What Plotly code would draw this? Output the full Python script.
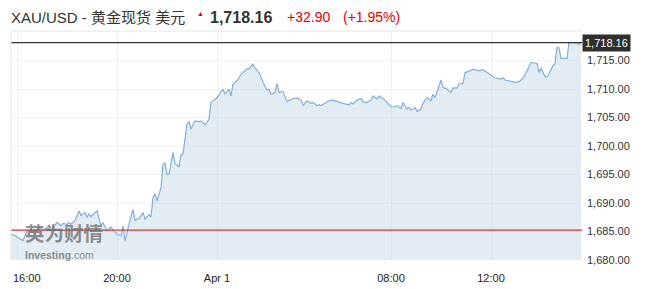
import plotly.graph_objects as go

# ---- data (5-minute bar index, price) ----
bar_idx = [0, 2, 6, 8, 10, 12, 14, 16, 18, 20, 21, 23, 25, 26, 28, 29, 30, 32, 34, 35,
           37, 38, 39, 40, 43, 44, 45, 46, 48, 50, 51, 53, 55, 56, 57, 59, 60, 61, 62, 64,
           65, 66, 67, 69, 70, 71, 72, 73, 75, 76, 77, 78, 79, 81, 82, 84, 85, 86, 88, 89,
           90, 92, 94, 95, 97, 99, 100, 103, 106, 107, 109, 110, 111, 113, 115, 118, 119, 121, 122, 124,
           126, 128, 129, 130, 132, 133, 134, 136, 138, 141, 143, 145, 146, 148, 150, 151, 153, 154, 155, 157,
           159, 161, 164, 166, 169, 170, 171, 173, 175, 176, 178, 180, 181, 183, 184, 187, 190, 192, 193, 195,
           196, 198, 199, 200, 202, 203, 205, 206, 208, 210, 211, 212, 215, 216, 218, 220, 221, 223, 224, 226,
           227, 229, 231, 234, 236, 239, 240, 242, 245, 246, 247, 250, 252, 254, 256, 258, 260, 263, 264, 265,
           267, 268, 269, 271, 272, 273, 274, 275, 278, 279, 281, 283, 284, 285]
price = [1684.56, 1684.26, 1683.40, 1685.10, 1685.40, 1684.56, 1685.80, 1685.26, 1685.70, 1685.10,
         1685.70, 1686.60, 1686.00, 1686.40, 1686.20, 1686.60, 1686.30, 1686.90, 1688.65, 1687.80,
         1688.35, 1687.50, 1688.10, 1687.60, 1688.65, 1687.50, 1686.00, 1686.60, 1685.10, 1685.80,
         1685.30, 1684.56, 1684.26, 1686.00, 1683.30, 1686.30, 1687.80, 1688.90, 1687.00, 1687.30,
         1687.80, 1688.35, 1687.20, 1687.95, 1687.60, 1691.00, 1691.60, 1690.40, 1692.70, 1696.80,
         1697.10, 1695.00, 1695.10, 1698.90, 1696.95, 1696.40, 1698.50, 1698.60, 1703.90, 1704.30,
         1703.00, 1704.40, 1704.30, 1704.40, 1703.70, 1704.70, 1707.65, 1708.50, 1710.00, 1709.10,
         1710.00, 1708.80, 1710.90, 1711.45, 1712.60, 1713.60, 1713.50, 1714.40, 1713.70, 1712.90,
         1711.20, 1709.80, 1710.00, 1709.10, 1709.40, 1711.00, 1709.40, 1709.60, 1707.80, 1708.35,
         1708.40, 1708.10, 1707.10, 1707.95, 1707.50, 1707.65, 1707.10, 1707.25, 1707.10, 1707.50,
         1707.95, 1708.07, 1707.65, 1707.50, 1707.25, 1707.65, 1707.40, 1708.07, 1708.35, 1707.80,
         1707.65, 1708.07, 1708.80, 1708.25, 1708.80, 1708.07, 1706.90, 1706.90, 1707.10, 1706.60,
         1707.65, 1706.50, 1706.80, 1706.30, 1706.80, 1706.10, 1706.50, 1707.50, 1708.50, 1707.95,
         1709.10, 1708.50, 1711.60, 1710.30, 1710.00, 1709.40, 1710.20, 1710.20, 1710.90, 1711.00,
         1712.90, 1713.10, 1713.50, 1713.20, 1713.40, 1712.70, 1712.60, 1712.00, 1711.75, 1712.00,
         1711.60, 1711.30, 1711.20, 1711.30, 1711.90, 1713.20, 1714.70, 1714.50, 1712.90, 1713.70,
         1712.20, 1712.20, 1712.70, 1714.10, 1714.40, 1717.30, 1717.25, 1715.40, 1715.40, 1718.20,
         1718.20, 1718.10, 1717.80, 1718.16]

last_price = 1718.16
prev_close = 1685.26
change = "+32.90"
change_pct = "(+1.95%)"
title_text = "XAU/USD - 黄金现货 美元"

x_tick_idx = [3, 53, 103, 190, 240]
x_tick_text = ["16:00", "20:00", "Apr 1", "08:00", "12:00"]
y_ticks = [1680, 1685, 1690, 1695, 1700, 1705, 1710, 1715]

FONT = "Arial, 'Liberation Sans', 'Noto Sans CJK SC', sans-serif"
W, H = 653, 289
L, R, T, B = 11, 71, 31, 29


def px(xpix):
    return (xpix - L) / (W - L - R)


def py(ypix):
    return (H - B - ypix) / (H - T - B)


fig = go.Figure()
fig.add_trace(go.Scatter(
    x=bar_idx, y=price, mode="lines",
    line=dict(color="#82b0dc", width=1.2),
    fill="tozeroy", fillcolor="rgba(200,216,232,0.5)",
    hoverinfo="skip", showlegend=False,
))

# previous close (red) and last price (black) lines
fig.add_shape(type="line", xref="paper", x0=0, x1=1, yref="y", y0=prev_close, y1=prev_close,
              line=dict(color="#d9363a", width=1.2))
fig.add_shape(type="line", xref="paper", x0=0, x1=1, yref="y", y0=last_price, y1=last_price,
              line=dict(color="#333333", width=1.3))
# plot frame
fig.add_shape(type="line", xref="paper", yref="paper", x0=0, x1=1, y0=1, y1=1,
              line=dict(color="#e3e6ea", width=1))
fig.add_shape(type="line", xref="paper", yref="paper", x0=0, x1=0, y0=0, y1=1,
              line=dict(color="#e3e6ea", width=1))

ann = []
# first x label is justified right of its grid line (kept inside the chart)
ann.append(dict(xref="paper", x=px(12), xanchor="left", yref="paper", y=py(277.5), yanchor="middle",
                text=x_tick_text[0], showarrow=False, borderpad=0,
                font=dict(family=FONT, size=11, color="#222222")))
# last price box
ann.append(dict(xref="paper", x=1, xanchor="left", yref="y", y=last_price, yanchor="middle",
                text=f"{last_price:,.2f}", showarrow=False, bgcolor="#2f2f2f",
                font=dict(family=FONT, size=11, color="white"), borderpad=2))
# header
ann.append(dict(xref="paper", x=px(9), xanchor="left", yref="paper", y=py(17), yanchor="middle",
                text=title_text, showarrow=False, font=dict(family=FONT, size=15, color="#333333")))
ann.append(dict(xref="paper", x=px(195), xanchor="left", yref="paper", y=py(13), yanchor="middle",
                text="▲", showarrow=False, font=dict(family=FONT, size=7, color="#e60000")))
ann.append(dict(xref="paper", x=px(208), xanchor="left", yref="paper", y=py(17), yanchor="middle",
                text=f"<b>{last_price:,.2f}</b>", showarrow=False,
                font=dict(family=FONT, size=16, color="#333333")))
ann.append(dict(xref="paper", x=px(285), xanchor="left", yref="paper", y=py(17), yanchor="middle",
                text=change, showarrow=False, font=dict(family=FONT, size=14, color="#e60000")))
ann.append(dict(xref="paper", x=px(341), xanchor="left", yref="paper", y=py(17), yanchor="middle",
                text=change_pct, showarrow=False, font=dict(family=FONT, size=14, color="#e60000")))
# watermark
ann.append(dict(xref="paper", x=px(24), xanchor="left", yref="paper", y=py(232), yanchor="middle",
                text="<b>英为财情</b>", showarrow=False, opacity=0.75, borderpad=0,
                font=dict(family="'Noto Sans CJK SC', sans-serif", size=19.5, color="#6b6b6b")))
ann.append(dict(xref="paper", x=px(24), xanchor="left", yref="paper", y=py(254.5), yanchor="middle",
                text="<b>Investing</b>.com", showarrow=False, opacity=0.75, borderpad=0,
                font=dict(family=FONT, size=10.5, color="#6b6b6b")))

fig.update_layout(
    width=W, height=H,
    margin=dict(l=L, r=R, t=T, b=B, pad=0, autoexpand=False),
    paper_bgcolor="white", plot_bgcolor="white",
    font=dict(family=FONT, size=11, color="#333333"),
    annotations=ann,
    xaxis=dict(range=[0, 285.5], tickvals=x_tick_idx, ticktext=[""] + x_tick_text[1:],
               showgrid=True, gridcolor="#eef0f2", gridwidth=1, zeroline=False,
               showline=False, ticks="", ticklabelstandoff=10,
               automargin=False, tickfont=dict(size=11, color="#222222")),
    yaxis=dict(range=[1680, 1720.2], side="right", tickvals=y_ticks, tickformat=",.2f",
               showgrid=True, gridcolor="#f1f2f4", gridwidth=1, zeroline=False,
               showline=False, ticks="", ticklabelstandoff=4, automargin=False,
               tickfont=dict(size=11, color="#333333")),
)

fig.write_html("out.html")
